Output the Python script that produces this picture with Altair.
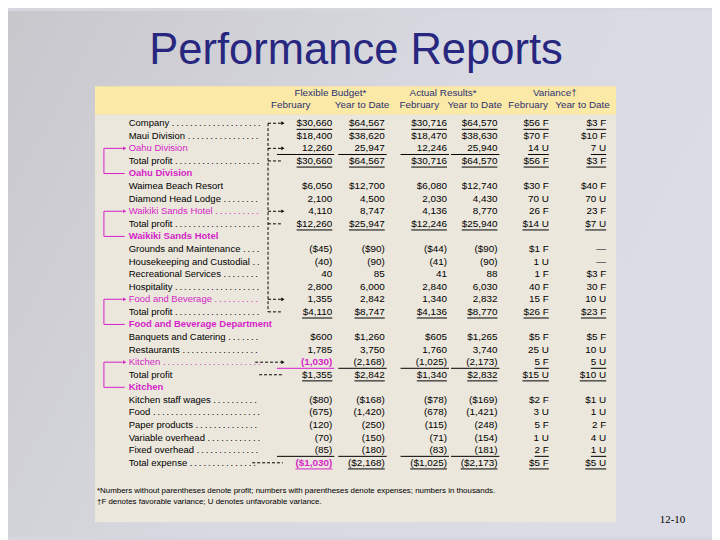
import altair as alt
import pandas as pd

# ---------------- data ----------------
labels = [
    "Company", "Maui Division", "Oahu Division", "Total profit",
    "Oahu Division", "Waimea Beach Resort", "Diamond Head Lodge", "Waikiki Sands Hotel", "Total profit",
    "Waikiki Sands Hotel", "Grounds and Maintenance", "Housekeeping and Custodial", "Recreational Services",
    "Hospitality", "Food and Beverage", "Total profit",
    "Food and Beverage Department", "Banquets and Catering", "Restaurants", "Kitchen", "Total profit",
    "Kitchen", "Kitchen staff wages", "Food", "Paper products", "Variable overhead", "Fixed overhead",
    "Total expense",
]
# kind: item / link (magenta, arrowed) / head (magenta bold section header)
row_kind = [
    "item", "item", "link", "item",
    "head", "item", "item", "link", "item",
    "head", "item", "item", "item", "item", "link", "item",
    "head", "item", "item", "link", "item",
    "head", "item", "item", "item", "item", "item", "item",
]
no_dots = [2, 5, 20]

group_headers = ["Flexible Budget*", "Actual Results*", "Variance\u2020"]
sub_headers = ["February", "Year to Date", "February", "Year to Date", "February", "Year to Date"]

flex_feb = ["$30,660", "$18,400", "12,260", "$30,660", "", "$6,050", "2,100", "4,110", "$12,260",
            "", "($45)", "(40)", "40", "2,800", "1,355", "$4,110",
            "", "$600", "1,785", "(1,030)", "$1,355",
            "", "($80)", "(675)", "(120)", "(70)", "(85)", "($1,030)"]
flex_ytd = ["$64,567", "$38,620", "25,947", "$64,567", "", "$12,700", "4,500", "8,747", "$25,947",
            "", "($90)", "(90)", "85", "6,000", "2,842", "$8,747",
            "", "$1,260", "3,750", "(2,168)", "$2,842",
            "", "($168)", "(1,420)", "(250)", "(150)", "(180)", "($2,168)"]
act_feb = ["$30,716", "$18,470", "12,246", "$30,716", "", "$6,080", "2,030", "4,136", "$12,246",
           "", "($44)", "(41)", "41", "2,840", "1,340", "$4,136",
           "", "$605", "1,760", "(1,025)", "$1,340",
           "", "($78)", "(678)", "(115)", "(71)", "(83)", "($1,025)"]
act_ytd = ["$64,570", "$38,630", "25,940", "$64,570", "", "$12,740", "4,430", "8,770", "$25,940",
           "", "($90)", "(90)", "88", "6,030", "2,832", "$8,770",
           "", "$1,265", "3,740", "(2,173)", "$2,832",
           "", "($169)", "(1,421)", "(248)", "(154)", "(181)", "($2,173)"]
var_feb = ["$56 F", "$70 F", "14 U", "$56 F", "", "$30 F", "70 U", "26 F", "$14 U",
           "", "$1 F", "1 U", "1 F", "40 F", "15 F", "$26 F",
           "", "$5 F", "25 U", "5 F", "$15 U",
           "", "$2 F", "3 U", "5 F", "1 U", "2 F", "$5 F"]
var_ytd = ["$3 F", "$10 F", "7 U", "$3 F", "", "$40 F", "70 U", "23 F", "$7 U",
           "", "\u2014", "\u2014", "$3 F", "30 F", "10 U", "$23 F",
           "", "$5 F", "10 U", "5 U", "$10 U",
           "", "$1 U", "1 U", "2 F", "4 U", "1 U", "$5 U"]
value_cols = [flex_feb, flex_ytd, act_feb, act_ytd, var_feb, var_ytd]

underline_all_rows = [0, 3, 8, 15, 20, 27]
rule_rows = [2, 19, 26]
magenta_cells = [(19, 0), (27, 0)]

# link arrows: (item row, section header row)
brackets = [(2, 4), (7, 9), (14, 16), (19, 21)]
dash_rows = [0, 2, 3, 7, 8, 14, 15, 19, 20, 27]
arrow_rows = [0, 2, 7, 14, 19]

title = "Performance Reports"
footnotes = [
    "*Numbers without parentheses denote profit; numbers with parentheses denote expenses; numbers in thousands.",
    "\u2020F denotes favorable variance; U denotes unfavorable variance.",
]
page_no = "12-10"

# ---------------- layout / style ----------------
MAGENTA = "#d61fc8"
NAVY = "#27277f"
HEAD_BLUE = "#2c3170"
FONT = "Liberation Sans"
W, H = 712, 532
COL_RIGHT = [336, 389, 452, 503, 555, 613]
SUB_CENTER = [294, 366, 424, 480, 534, 589]
GROUP_CENTER = [334, 448, 561]
LABEL_X = 130
DOT_END = 266
ROW0, ROWH = 121.5, 12.72
FS_LABEL, FS_NUM = 9.6, 10
DOT = ".\u2009"

def row_y(r):
    return ROW0 + r * ROWH

AW = {
    'a': .556, 'b': .556, 'c': .5, 'd': .556, 'e': .556, 'f': .278, 'g': .556, 'h': .556, 'i': .222,
    'j': .222, 'k': .5, 'l': .222, 'm': .833, 'n': .556, 'o': .556, 'p': .556, 'q': .556, 'r': .333,
    's': .5, 't': .278, 'u': .556, 'v': .5, 'w': .722, 'x': .5, 'y': .5, 'z': .5,
    'A': .667, 'B': .667, 'C': .722, 'D': .722, 'E': .667, 'F': .611, 'G': .778, 'H': .722, 'I': .278,
    'J': .5, 'K': .667, 'L': .556, 'M': .833, 'N': .722, 'O': .778, 'P': .667, 'Q': .778, 'R': .722,
    'S': .667, 'T': .611, 'U': .722, 'V': .667, 'W': .944, 'X': .667, 'Y': .667, 'Z': .611,
    ' ': .278, '.': .278, ',': .278, '(': .333, ')': .333, '$': .556, '\u2014': 1.0, '\u2009': .2,
}

def tw(s, size):
    return sum(AW.get(ch, .556) for ch in s) * size

def with_dots(s):
    out = s + " "
    while tw(out + DOT, FS_LABEL) < DOT_END - LABEL_X:
        out += DOT
    return out.rstrip()

xs = alt.Scale(domain=[8, 720], range=[0, W], nice=False, zero=False)
ys = alt.Scale(domain=[8, 540], range=[0, H], nice=False, zero=False)

def X(f="x"):
    return alt.X(f"{f}:Q", scale=xs, axis=None)

def Y(f="y"):
    return alt.Y(f"{f}:Q", scale=ys, axis=None)

# ---------------- tables ----------------
bg = pd.DataFrame([{"x": 8, "x2": 720, "y": 8, "y2": 540}])
panels = pd.DataFrame([
    {"x": 96, "x2": 623, "y": 84, "y2": 113, "c": "#fbe9a8"},
    {"x": 96, "x2": 623, "y": 113, "y2": 525, "c": "#ebe7dc"},
])

heads = pd.DataFrame(
    [{"x": GROUP_CENTER[i], "y": 90.5, "t": g} for i, g in enumerate(group_headers)]
    + [{"x": SUB_CENTER[i], "y": 103.5, "t": s} for i, s in enumerate(sub_headers)]
)

lab_rows = []
for r, (lab, kind) in enumerate(zip(labels, row_kind)):
    txt = lab if (kind == "head" or r in no_dots) else with_dots(lab)
    color = "black" if kind == "item" else MAGENTA
    lab_rows.append({"x": LABEL_X, "y": row_y(r), "t": txt, "c": color, "bold": kind == "head"})
labs = pd.DataFrame(lab_rows)

cell_rows, ul_rows = [], []
for r in range(len(labels)):
    for c, arr in enumerate(value_cols):
        v = arr[r]
        if not v:
            continue
        mag = (r, c) in magenta_cells
        cell_rows.append({"x": COL_RIGHT[c], "y": row_y(r), "t": v,
                          "c": MAGENTA if mag else "black", "bold": mag})
        w = tw(v, FS_NUM)
        yy = row_y(r) + 6.2
        if r in underline_all_rows or (r in rule_rows and c >= 4):
            ul_rows.append({"x": COL_RIGHT[c] - w, "x2": COL_RIGHT[c], "y": yy,
                            "c": MAGENTA if mag else "black"})
        if r in rule_rows and c < 4:
            span = 56 if c == 0 else 47
            ul_rows.append({"x": COL_RIGHT[c] - span, "x2": COL_RIGHT[c] + 2, "y": yy,
                            "c": MAGENTA if (r, c) == (19, 0) else "black"})
cells = pd.DataFrame(cell_rows)
uls = pd.DataFrame(ul_rows)

dash_h = []
for r in dash_rows:
    start = {19: 258, 20: 262, 27: 255}.get(r, 271)
    end = 284 if r in arrow_rows else 286
    dash_h.append({"x": start, "x2": end, "y": row_y(r), "y2": row_y(r)})
dash_v = pd.DataFrame([{"x": 271, "y": row_y(0), "y2": row_y(15)}])
dash_h = pd.DataFrame(dash_h)
heads_pts = pd.DataFrame([{"x": 286, "y": row_y(r)} for r in arrow_rows])

br_h, br_v, br_pts = [], [], []
for a, b in brackets:
    br_v.append({"x": 105, "y": row_y(a), "y2": row_y(b)})
    br_h.append({"x": 105, "x2": 124, "y": row_y(a)})
    br_h.append({"x": 105, "x2": 126, "y": row_y(b)})
    br_pts.append({"x": 126, "y": row_y(a)})
br_h, br_v, br_pts = pd.DataFrame(br_h), pd.DataFrame(br_v), pd.DataFrame(br_pts)

notes = pd.DataFrame([{"x": 98, "y": 493 + 12 * i, "t": t} for i, t in enumerate(footnotes)])
title_df = pd.DataFrame([{"x": 360, "y": 62, "t": title}])
page_df = pd.DataFrame([{"x": 680, "y": 523, "t": page_no}])

# ---------------- layers ----------------
grad = alt.Gradient(gradient="linear", x1=0, y1=0, x2=1, y2=0.4,
                    stops=[alt.GradientStop(color="#c7c7cc", offset=0),
                           alt.GradientStop(color="#d8d8e0", offset=0.55),
                           alt.GradientStop(color="#dcdce6", offset=1)])
L = []
L.append(alt.Chart(bg).mark_rect(fill=grad).encode(x=X(), x2="x2", y=Y(), y2="y2"))
L.append(alt.Chart(panels).mark_rect().encode(x=X(), x2="x2", y=Y(), y2="y2",
                                              color=alt.Color("c:N", scale=None)))
L.append(alt.Chart(title_df).mark_text(font=FONT, fontSize=44, color=NAVY,
                                       align="center", baseline="alphabetic")
         .encode(x=X(), y=Y(), text="t:N"))
L.append(alt.Chart(heads).mark_text(font=FONT, fontSize=10, color=HEAD_BLUE,
                                    align="center", baseline="middle")
         .encode(x=X(), y=Y(), text="t:N"))
for bold in (False, True):
    L.append(alt.Chart(labs[labs.bold == bold]).mark_text(
        font=FONT, fontSize=FS_LABEL, fontWeight="bold" if bold else "normal",
        align="left", baseline="middle")
        .encode(x=X(), y=Y(), text="t:N", color=alt.Color("c:N", scale=None)))
    L.append(alt.Chart(cells[cells.bold == bold]).mark_text(
        font=FONT, fontSize=FS_NUM, fontWeight="bold" if bold else "normal",
        align="right", baseline="middle")
        .encode(x=X(), y=Y(), text="t:N", color=alt.Color("c:N", scale=None)))
L.append(alt.Chart(uls).mark_rule(strokeWidth=1).encode(
    x=X(), x2="x2", y=Y(), color=alt.Color("c:N", scale=None)))
L.append(alt.Chart(dash_h).mark_rule(strokeWidth=1, strokeDash=[3, 2], color="black")
         .encode(x=X(), x2="x2", y=Y()))
L.append(alt.Chart(dash_v).mark_rule(strokeWidth=1, strokeDash=[3, 2], color="black")
         .encode(x=X(), y=Y(), y2="y2"))
L.append(alt.Chart(heads_pts).mark_point(shape="triangle-right", size=14, filled=True,
                                         color="black", opacity=1)
         .encode(x=X(), y=Y()))
L.append(alt.Chart(br_h).mark_rule(strokeWidth=1, color=MAGENTA).encode(x=X(), x2="x2", y=Y()))
L.append(alt.Chart(br_v).mark_rule(strokeWidth=1, color=MAGENTA).encode(x=X(), y=Y(), y2="y2"))
L.append(alt.Chart(br_pts).mark_point(shape="triangle-right", size=14, filled=True,
                                      color=MAGENTA, opacity=1)
         .encode(x=X(), y=Y()))
L.append(alt.Chart(notes).mark_text(font=FONT, fontSize=8, color="black",
                                    align="left", baseline="middle")
         .encode(x=X(), y=Y(), text="t:N"))
L.append(alt.Chart(page_df).mark_text(font="Liberation Serif", fontSize=11, color="black",
                                      align="center", baseline="middle")
         .encode(x=X(), y=Y(), text="t:N"))

chart = alt.layer(*L).properties(
    width=W, height=H, padding=0, autosize="none", background="#d6d6de"
).configure_view(stroke=None)

chart.save("out.html", embed_options={"renderer": "svg", "actions": False})
